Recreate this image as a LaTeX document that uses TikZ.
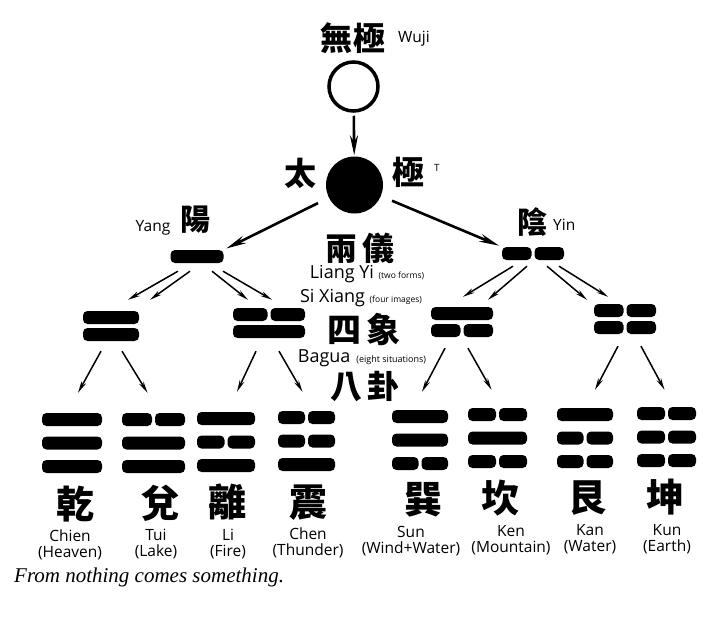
\documentclass[tikz,border=0pt]{standalone}
\usepackage{fontspec}
\setsansfont{Open Sans}
\newfontfamily\capfont{Liberation Serif}
\newfontfamily\cjk{Noto Sans CJK TC}
\usetikzlibrary{arrows.meta}
\usetikzlibrary{calc}

% a stack of yao lines: name, centre x, top y, width, pitch, lines from the top (1 whole, 0 broken)
\newcommand{\gua}[6]{%
  \pgfmathsetmacro\guah{(dim({#6})-1)*#5+13}
  \node[inner sep=0pt,minimum width=#4pt,minimum height=\guah pt] (#1) at (#2,{#3+\guah/2}) {};
  \foreach \kind [count=\i] in {#6} {
    \pgfmathsetmacro\yy{#3+(\i-1)*#5}
    \ifnum\kind=1
      \fill[rounded corners=4.5pt] ({#2-#4/2},\yy) rectangle ++(#4,13);
    \else
      \fill[rounded corners=4.5pt] ({#2-#4/2},\yy) rectangle ++({#4/2-1.5},13);
      \fill[rounded corners=4.5pt] ({#2+1.5},\yy) rectangle ++({#4/2-1.5},13);
    \fi
  }
}

\begin{document}
\begin{tikzpicture}
  [x=1pt,y=-1pt,
  hanzi/.style={font=\cjk\bfseries\fontsize{32}{32}\selectfont,inner sep=0pt},
  bighanzi/.style={font=\cjk\bfseries\fontsize{38}{38}\selectfont,inner sep=0pt},
  lbl/.style={font=\sffamily\fontsize{15.5}{16}\selectfont,inner sep=0pt,align=center},
  biglbl/.style={font=\sffamily\fontsize{18}{18}\selectfont,inner sep=0pt},
  bigarr/.style={line width=2.6pt,-{Stealth[length=20pt,width=8pt]}},
  arr/.style={line width=1.5pt,-{Stealth[length=12pt,width=5pt]}}]
  \useasboundingbox (0,0) rectangle (720,616);

  % wuji and taiji
  \node[circle,draw=black,line width=3.5pt,minimum size=49pt,inner sep=0pt] (wuji) at (353.5,86.5) {};
  \node[circle,fill=black,minimum size=57pt,inner sep=0pt] (taiji) at (354.5,185) {};
  \node[hanzi] (wujiH) at (353,38) {無\hspace{2pt}極};
  \node[lbl,anchor=west] (wujiL) at (398,39) {Wuji};
  \node[hanzi] (tai) at (300,173) {太};
  \node[hanzi] (ji) at (408,172) {極};
  \node[font=\sffamily\fontsize{10}{10}\selectfont] (tT) at (437,168) {T};

  % liang yi
  \gua{yang}{197}{250}{53}{17}{1}
  \gua{yin}{533}{247}{62}{17}{0}
  \node[hanzi,font=\cjk\bfseries\fontsize{30}{30}\selectfont] (yangH) at (195,220) {陽};
  \node[lbl] (yangL) at (153,228) {Yang};
  \node[hanzi,font=\cjk\bfseries\fontsize{30}{30}\selectfont] (yinH) at (532,222) {陰};
  \node[lbl,anchor=west] (yinL) at (553,225) {Yin};
  \node[hanzi] (liangH) at (360,248) {兩\hspace{6pt}儀};
  \node[biglbl] (liangL) at (367,274) {Liang Yi {\fontsize{8.5}{9}\selectfont (two forms)}};

  % si xiang
  \gua{sx1}{111}{311}{56}{17}{1,1}
  \gua{sx2}{269}{308}{72}{17}{0,1}
  \gua{sx3}{462}{307}{62}{17}{1,0}
  \gua{sx4}{625}{304}{62}{17}{0,0}
  \node[biglbl] (sixL) at (361,298) {Si Xiang {\fontsize{8.5}{9}\selectfont (four images)}};
  \node[hanzi,font=\cjk\bfseries\fontsize{34}{34}\selectfont] (sixH) at (364,330) {四\hspace{6pt}象};

  % bagua
  \gua{gua1}{72}{413}{60}{23.5}{1,1,1}
  \gua{gua2}{153.5}{413}{63}{23.5}{0,1,1}
  \gua{gua3}{226}{412}{58}{23.5}{1,0,1}
  \gua{gua4}{306.5}{411}{57}{23.5}{0,0,1}
  \gua{gua5}{420}{410}{56}{23.5}{1,1,0}
  \gua{gua6}{497.5}{408}{59}{23.5}{0,1,0}
  \gua{gua7}{585}{408}{56}{23.5}{1,0,0}
  \gua{gua8}{666.5}{407}{59}{23.5}{0,0,0}
  \node[biglbl] (baguaL) at (362,358) {Bagua\hspace{6pt}{\fontsize{9}{9}\selectfont (eight situations)}};
  \node[hanzi] (baguaH) at (365,387) {八\hspace{6pt}卦};

  \node[bighanzi] (qian) at (75,504) {乾};
  \node[bighanzi] (dui) at (160,503) {兌};
  \node[bighanzi] (li) at (227,502) {離};
  \node[bighanzi] (zhen) at (308,503) {震};
  \node[bighanzi] (xun) at (423,500) {巽};
  \node[bighanzi] (kan) at (500,498) {坎};
  \node[bighanzi] (gen) at (587,498) {艮};
  \node[bighanzi] (kun) at (665,497) {坤};

  \node[lbl] (qianL) at (70,545) {Chien\\(Heaven)};
  \node[lbl] (duiL) at (156,544) {Tui\\(Lake)};
  \node[lbl] (liL) at (228,544) {Li\\(Fire)};
  \node[lbl] (zhenL) at (308,543) {Chen\\(Thunder)};
  \node[lbl] (xunL) at (411,541) {Sun\\(Wind+Water)};
  \node[lbl] (kanL) at (511,540) {Ken\\(Mountain)};
  \node[lbl] (genL) at (590,539) {Kan\\(Water)};
  \node[lbl] (kunL) at (667,539) {Kun\\(Earth)};

  \node[font=\capfont\itshape\fontsize{21}{21}\selectfont,anchor=west,inner sep=0pt] (motto) at (14,577) {From nothing comes something.};

  % arrows
  \draw[bigarr,shorten <=3pt,shorten >=1pt] (wuji) -- (taiji);
  \draw[bigarr,shorten <=12pt,shorten >=3pt] (taiji) -- (yang.north east);
  \draw[bigarr,shorten <=12pt,shorten >=3pt] (taiji) -- (yin.north west);

  \draw[arr] ($(yang.south)+(-19,8)$) -- ($(sx1.north)+(17,-11)$);
  \draw[arr] ($(yang.south)+(-7,8)$) -- ($(sx1.north)+(39,-11)$);
  \draw[arr] ($(yang.south)+(15,8)$) -- ($(sx2.north)+(-21,-8)$);
  \draw[arr] ($(yang.south)+(26,8)$) -- ($(sx2.north)+(3,-8)$);
  \draw[arr] ($(yin.south)+(-20,6)$) -- ($(sx3.north)+(1,-10)$);
  \draw[arr] ($(yin.south)+(-6,6)$) -- ($(sx3.north)+(26,-7)$);
  \draw[arr] ($(yin.south)+(14,6)$) -- ($(sx4.north)+(-38,-4)$);
  \draw[arr] ($(yin.south)+(26,6)$) -- ($(sx4.north)+(-17,-7)$);

  \draw[arr] ($(sx1.south)+(-10,10)$) -- ($(gua1.north)+(6,-20)$);
  \draw[arr] ($(sx1.south)+(11,10)$) -- ($(gua2.north)+(-6,-20)$);
  \draw[arr] ($(sx2.south)+(-13,13)$) -- ($(gua3.north)+(11,-20)$);
  \draw[arr] ($(sx2.south)+(10,13)$) -- ($(gua4.north)+(-4,-19)$);
  \draw[arr] ($(sx3.south)+(-17,11)$) -- ($(gua5.north)+(2,-18)$);
  \draw[arr] ($(sx3.south)+(6,11)$) -- ($(gua6.north)+(-6,-18)$);
  \draw[arr] ($(sx4.south)+(-7,12)$) -- ($(gua7.north)+(10,-18)$);
  \draw[arr] ($(sx4.south)+(16,12)$) -- ($(gua8.north)+(-2,-17)$);
\end{tikzpicture}
\end{document}
